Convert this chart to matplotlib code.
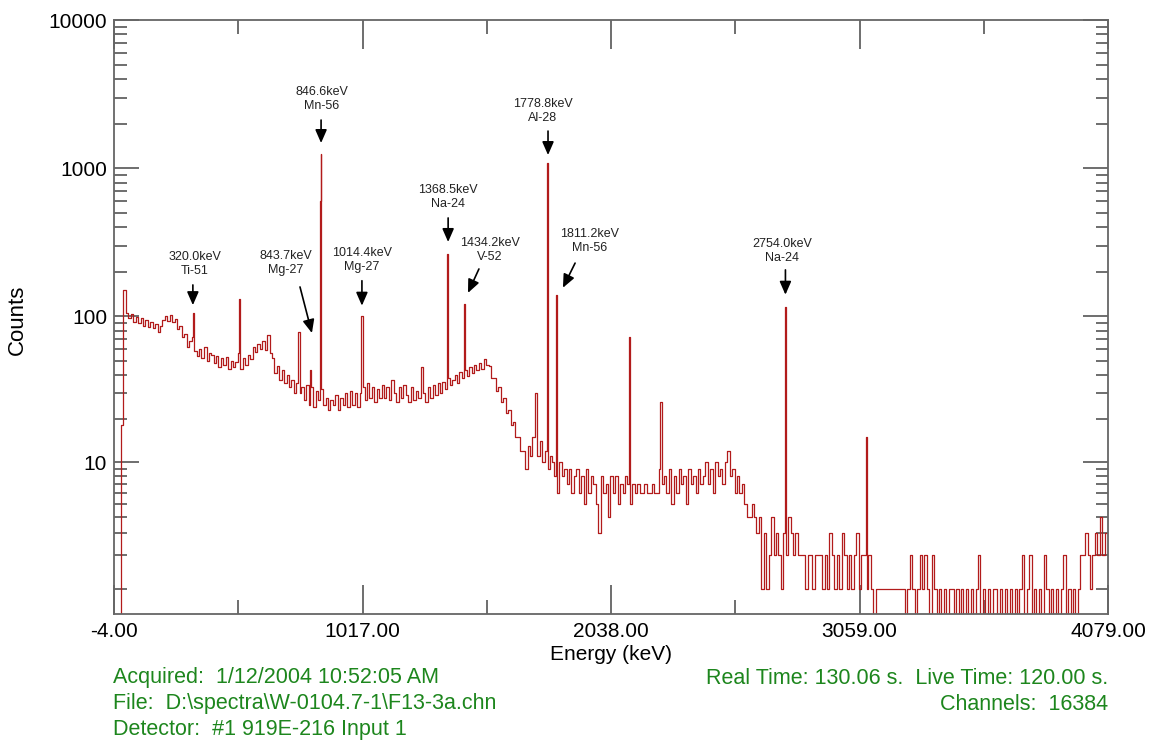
import numpy as np
import matplotlib
matplotlib.use("Agg")
import matplotlib.pyplot as plt
from matplotlib.ticker import FixedLocator, FuncFormatter, NullFormatter

plt.rcParams['font.family'] = ['Liberation Sans', 'DejaVu Sans']

# continuum counts, one value per 10 keV channel group starting at 20 keV
counts = [
    0, 18, 150, 105, 97, 103, 92, 99,                       # 20-90
    90, 97, 86, 94, 84, 92, 83, 89, 78, 86,                 # 100
    95, 101, 93, 102, 92, 96, 82, 86, 72, 76,               # 200
    62, 68, 72, 58, 54, 60, 52, 62, 50, 56,                 # 300
    55, 48, 54, 45, 52, 47, 53, 44, 50, 45,                 # 400
    49, 56, 44, 52, 47, 55, 51, 62, 57, 65,                 # 500
    60, 68, 59, 75, 56, 52, 41, 46, 37, 43,                 # 600
    35, 40, 33, 37, 30, 35, 30, 33, 27, 34,                 # 700
    25, 33, 24, 31, 27, 32, 25, 28, 23, 27,                 # 800
    25, 29, 23, 28, 25, 30, 24, 31, 25, 30,                 # 900
    24, 30, 33, 27, 35, 28, 33, 26, 32, 28,                 # 1000
    34, 28, 33, 27, 37, 30, 26, 33, 28, 34,                 # 1100
    29, 26, 33, 27, 31, 28, 45, 30, 26, 33,                 # 1200
    28, 34, 29, 35, 30, 36, 32, 38, 34, 37,                 # 1300
    40, 35, 42, 38, 43, 39, 45, 41, 47, 43,                 # 1400
    48, 44, 51, 47, 46, 38, 38, 31, 33, 26,                 # 1500
    28, 22, 23, 18, 19, 15, 15, 12, 12, 9,                  # 1600
    13, 11, 15, 30, 11, 14, 10, 12, 9, 11,                  # 1700
    10, 8, 6, 10, 8, 9, 7, 9, 6, 8,                         # 1800
    9, 6, 8, 5, 9, 6, 8, 7, 5, 3,                           # 1900
    8, 6, 7, 4, 8, 6, 8, 5, 7, 6,                           # 2000
    8, 7, 5, 7, 6, 7, 6, 6, 7, 6,                           # 2100
    6, 7, 6, 6, 9, 7, 8, 6, 9, 5,                           # 2200
    8, 6, 9, 7, 8, 5, 9, 7, 8, 6,                           # 2300
    9, 7, 8, 10, 7, 9, 6, 10, 8, 9,                         # 2400
    7, 10, 12, 8, 9, 6, 8, 6, 7, 5,                         # 2500
    4, 4, 5, 4, 3, 4, 1, 3, 1, 2,                           # 2600
    4, 2, 3, 2, 1, 3, 2, 4, 3, 2,                           # 2700
    3, 2, 2, 2, 1, 2, 2, 1, 2, 2,                           # 2800
    2, 1, 2, 1, 3, 2, 1, 2, 1, 3,                           # 2900
    2, 1, 2, 1, 2, 3, 1, 2, 2, 1,                           # 3000
    2, 1, 0, 1, 1, 1, 1, 1, 1, 1,                           # 3100
    1, 1, 1, 1, 1, 0, 1, 2, 1, 0,                           # 3200
    1, 2, 1, 2, 1, 0, 2, 1, 0, 1,                           # 3300
    0, 1, 0, 1, 1, 0, 1, 0, 1, 0,                           # 3400
    1, 0, 1, 0, 1, 2, 0, 1, 0, 1,                           # 3500
    0, 1, 1, 0, 1, 0, 1, 0, 1, 0,                           # 3600
    1, 0, 1, 2, 0, 1, 2, 0, 1, 0,                           # 3700
    1, 0, 2, 1, 0, 1, 0, 1, 0, 1,                           # 3800
    2, 0, 1, 0, 1, 0, 1, 2, 2, 3,                           # 3900
    2, 1, 2, 3, 2, 4, 2, 3,                                 # 4000-4070
]
energy = np.arange(20, 20 + 10 * len(counts), 10)

# photopeaks (keV, counts at peak channel)
peak_kev = [320.0, 374.0, 511.0, 756.0, 801.0, 843.7, 846.6, 1014.4, 1368.5,
            1434.2, 1778.8, 1811.2, 2113.0, 2240.0, 2754.0, 3086.0]
peak_cts = [105, 62, 130, 78, 43, 600, 1250, 100, 265,
            122, 1080, 140, 72, 26, 115, 15]

# labels: text, text centre (keV, counts), arrow tail, arrow tip
labels = [
    ("320.0keV\nTi-51",   (328, 184),  (320, 163),    (320, 119)),
    ("846.6keV\nMn-56",   (850, 2394), (846.6, 2115), (846.6, 1480)),
    ("843.7keV\nMg-27",   (702, 188),  (760, 158),    (809, 77)),
    ("1014.4keV\nMg-27",  (1014, 196), (1014.4, 174), (1014.4, 118)),
    ("1368.5keV\nNa-24",  (1368, 522), (1368.5, 462), (1368.5, 318)),
    ("1434.2keV\nV-52",   (1540, 229), (1495, 209),   (1450, 144)),
    ("1778.8keV\nAl-28",  (1758, 1987), (1778.8, 1782), (1778.8, 1228)),
    ("1811.2keV\nMn-56",  (1951, 264), (1890, 229),   (1840, 156)),
    ("2754.0keV\nNa-24",  (2740, 226), (2754, 206),   (2754, 140)),
]

x_major = [-4, 1017, 2038, 3059, 4079]
x_minor = [506.5, 1527.5, 2548.5, 3569.5]
y_major = [10, 100, 1000, 10000]
y_minor = [1, 2, 3, 4, 5, 6, 7, 8, 9, 20, 30, 40, 50, 60, 70, 80, 90,
           200, 300, 400, 500, 600, 700, 800, 900,
           2000, 3000, 4000, 5000, 6000, 7000, 8000, 9000]

# merge continuum and peaks
e_all = np.concatenate([energy, peak_kev])
c_all = np.concatenate([counts, peak_cts]).astype(float)
order = np.argsort(e_all, kind="stable")
e_all, c_all = e_all[order], c_all[order]


def fwd(y):
    return np.log10(np.clip(y, 0, None) + 0.45)


def inv(z):
    return 10 ** z - 0.45


fig = plt.figure(figsize=(11.54, 7.4), dpi=100)
ax = fig.add_axes([114 / 1154, 126 / 740, 994 / 1154, 594 / 740])

ax.plot(e_all, c_all, drawstyle="steps-mid", color="#b21b1b", lw=0.9)

ax.set_yscale("function", functions=(fwd, inv))
ax.set_xlim(-4, 4079)
ax.set_ylim(0.537, 10000)

ax.xaxis.set_major_locator(FixedLocator(x_major))
ax.xaxis.set_minor_locator(FixedLocator(x_minor))
ax.xaxis.set_major_formatter(FuncFormatter(lambda v, p: "%.2f" % v))
ax.yaxis.set_major_locator(FixedLocator(y_major))
ax.yaxis.set_minor_locator(FixedLocator(y_minor))
ax.yaxis.set_major_formatter(FuncFormatter(lambda v, p: "%d" % round(v)))
ax.yaxis.set_minor_formatter(NullFormatter())

tick_col = "#555555"
ax.tick_params(axis="x", which="major", direction="in", length=21, width=1.2,
               top=True, bottom=True, color=tick_col, labelsize=15, pad=6)
ax.tick_params(axis="x", which="minor", direction="in", length=10, width=1.2,
               top=True, bottom=True, color=tick_col)
ax.tick_params(axis="y", which="major", direction="in", length=18, width=1.2,
               left=True, right=True, color=tick_col, labelsize=15, pad=5)
ax.tick_params(axis="y", which="minor", direction="in", length=9, width=1.2,
               left=True, right=True, color=tick_col)
for s in ax.spines.values():
    s.set_color("#666666")
    s.set_linewidth(1.3)

ax.set_xlabel("Energy (keV)", fontsize=15)
ax.xaxis.set_label_coords(0.5, -0.052)
ax.set_ylabel("Counts", fontsize=16)
ax.yaxis.set_label_coords(-0.0865, 0.495)

for txt, tpos, tail, tip in labels:
    ax.text(tpos[0], tpos[1], txt, ha="center", va="bottom", fontsize=9,
            linespacing=1.25, color="#222222")
    ax.annotate("", xy=tip, xytext=tail,
                arrowprops=dict(arrowstyle="-|>,head_length=0.8,head_width=0.35",
                                color="black", lw=1.2, shrinkA=0, shrinkB=0,
                                mutation_scale=10))

green = "#1d861d"
fig.text(113 / 1154, 1 - 678 / 740, "Acquired:  1/12/2004 10:52:05 AM",
         color=green, fontsize=15.5, va="center", ha="left")
fig.text(113 / 1154, 1 - 704 / 740, "File:  D:\\spectra\\W-0104.7-1\\F13-3a.chn",
         color=green, fontsize=15.5, va="center", ha="left")
fig.text(113 / 1154, 1 - 729 / 740, "Detector:  #1 919E-216 Input 1",
         color=green, fontsize=15.5, va="center", ha="left")
fig.text(1108 / 1154, 1 - 678 / 740, "Real Time: 130.06 s.  Live Time: 120.00 s.",
         color=green, fontsize=15.5, va="center", ha="right")
fig.text(1108 / 1154, 1 - 704 / 740, "Channels:  16384",
         color=green, fontsize=15.5, va="center", ha="right")

fig.savefig("out.png", dpi=100)
